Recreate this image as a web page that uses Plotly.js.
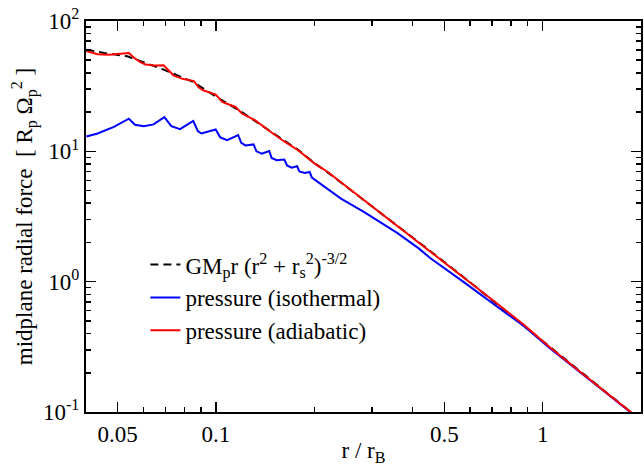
<!DOCTYPE html>
<html>
<head>
<meta charset="utf-8">
<script src="https://cdn.plot.ly/plotly-3.0.1.min.js"></script>
<style>html,body{margin:0;padding:0;background:#fff;}#plot{width:644px;height:466px;}</style>
</head>
<body>
<div id="plot"></div>
<script>
// Point-mass reference curve (black dashed)
const gravR = [0.0401,0.0455,0.0535,0.0691,0.0852,0.1,0.12,0.145,0.178,0.2005,0.225,0.2843,0.3585,0.4524,0.5708,0.72,0.8777,1.045,1.319,1.664,1.848,2.0];
const gravF = [60.3,56.8,53.6,42.4,34.0,26.3,20.0,14.6,10.3,8.1,6.6,4.2,2.7,1.72,1.09,0.68,0.46,0.318,0.198,0.1235,0.1012,0.087];

// Pressure force, isothermal (blue)
const isoR = [0.0401,0.0434,0.0487,0.0541,0.0565,0.0601,0.0644,0.0695,0.0730,0.0776,0.0852,0.0880,0.0902,0.0998,0.1030,0.1082,0.1169,0.1195,0.1230,0.1303,0.1330,0.1381,0.1455,0.1480,0.1534,0.1619,0.1650,0.1704,0.1772,0.1800,0.1870,0.1935,0.1965,0.2052,0.2413,0.2843,0.3585,0.4173,0.4524,0.5708,0.72,0.8777,1.045,1.319,1.664,1.848,2.0];
const isoF = [13.0,13.7,15.4,17.8,16.0,15.6,16.1,18.3,15.6,14.8,17.1,14.3,13.7,14.7,12.8,12.2,13.3,11.6,11.1,11.3,10.0,9.61,10.06,8.9,8.54,8.64,7.8,7.50,7.68,7.0,6.82,6.94,6.3,5.82,4.34,3.42,2.37,1.80,1.52,1.00,0.65,0.455,0.312,0.196,0.1225,0.1005,0.086];

// Pressure force, adiabatic (red)
const adiR = [0.0401,0.0434,0.0470,0.0499,0.0525,0.0541,0.0560,0.0585,0.0608,0.0650,0.0691,0.0741,0.0790,0.0832,0.0856,0.0885,0.0913,0.0979,0.0998,0.1045,0.1147,0.1201,0.1319,0.1447,0.1626,0.1784,0.2005,0.2199,0.2843,0.3585,0.4524,0.5708,0.72,0.8777,1.045,1.319,1.664,1.848,2.0];
const adiF = [58.9,55.5,55.0,55.5,56.0,56.8,52.4,48.5,46.3,45.6,45.7,38.3,36.0,35.1,34.6,31.0,29.4,27.7,27.2,23.9,21.9,19.5,17.3,14.5,11.8,10.2,8.05,6.94,4.21,2.72,1.72,1.10,0.69,0.465,0.318,0.198,0.1235,0.1012,0.087];

const seriesNames = ["GM<sub>p</sub>r (r<sup>2</sup> + r<sub>s</sub><sup>2</sup>)<sup>-3/2</sup>", "pressure (isothermal)", "pressure (adiabatic)"];

const xTickVals = [0.05,0.1,0.5,1];
const xTickText = ["0.05","0.1","0.5","1"];
const xMinor = [0.06,0.07,0.08,0.09,0.2,0.3,0.4,0.6,0.7,0.8,0.9,2];
const yTickVals = [0.1,1,10,100];
const yTickText = ["10<sup>-1</sup>","10<sup>0</sup>","10<sup>1</sup>","10<sup>2</sup>"];
const yMinor = [0.2,0.3,0.4,0.5,0.6,0.7,0.8,0.9,2,3,4,5,6,7,8,9,20,30,40,50,60,70,80,90];

const FONT = "'Liberation Serif', 'Times New Roman', serif";

const traces = [
  {x: gravR, y: gravF, name: seriesNames[0], mode: "lines", line: {color: "#000000", width: 2, dash: "8px,5px"}},
  {x: isoR, y: isoF, name: seriesNames[1], mode: "lines", line: {color: "#0000ff", width: 2}},
  {x: adiR, y: adiF, name: seriesNames[2], mode: "lines", line: {color: "#ff0000", width: 2}}
];

const axisCommon = {
  type: "log", showgrid: false, zeroline: false, showline: true, linecolor: "#000", linewidth: 2,
  mirror: "allticks", ticks: "inside", ticklen: 10, tickwidth: 1.5, tickcolor: "#000",
  tickmode: "array", tickfont: {family: FONT, size: 23, color: "#000"}
};

const layout = {
  width: 644, height: 466,
  margin: {l: 86, r: 1, t: 21, b: 54},
  paper_bgcolor: "#fff", plot_bgcolor: "#fff",
  font: {family: FONT, size: 23, color: "#000"},
  showlegend: true,
  legend: {x: 0.107, y: 0.432, xanchor: "left", yanchor: "top", bgcolor: "rgba(0,0,0,0)", borderwidth: 0,
           font: {family: FONT, size: 23, color: "#000"}},
  xaxis: Object.assign({}, axisCommon, {
    range: [Math.log10(0.04), Math.log10(2)],
    tickvals: xTickVals, ticktext: xTickText,
    minor: {tickvals: xMinor, ticks: "inside", ticklen: 5, tickwidth: 1.5, tickcolor: "#000", showgrid: false},
    title: {text: "r / r<sub>B</sub>", font: {family: FONT, size: 23, color: "#000"}, standoff: 6}
  }),
  yaxis: Object.assign({}, axisCommon, {
    range: [-1, 2], automargin: true,
    tickvals: yTickVals, ticktext: yTickText,
    minor: {tickvals: yMinor, ticks: "inside", ticklen: 5, tickwidth: 1.5, tickcolor: "#000", showgrid: false},
    title: {text: "midplane radial force  [ R<sub>p</sub> Ω<sub>p</sub><sup>2</sup> ]", font: {family: FONT, size: 23, color: "#000"}, standoff: 4}
  })
};

Plotly.newPlot("plot", traces, layout, {staticPlot: true, displayModeBar: false});
</script>
</body>
</html>
